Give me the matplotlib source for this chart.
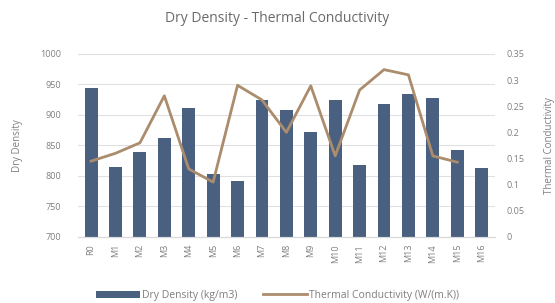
import matplotlib
matplotlib.use("Agg")
import matplotlib.pyplot as plt
from matplotlib.lines import Line2D
from matplotlib.patches import Patch

plt.rcParams['font.family'] = ['Open Sans', 'DejaVu Sans']

categories = ["R0", "M1", "M2", "M3", "M4", "M5", "M6", "M7", "M8", "M9",
              "M10", "M11", "M12", "M13", "M14", "M15", "M16"]
dry_density = [944, 815, 840, 862, 911, 803, 792, 925, 908, 872,
               925, 818, 918, 934, 928, 843, 813]
conductivity = [0.145, 0.16, 0.18, 0.27, 0.13, 0.105, 0.29, 0.262, 0.20, 0.289,
                0.155, 0.281, 0.32, 0.31, 0.155, 0.143]

bar_color = "#4a6080"
line_color = "#ab8c6d"
text_color = "#7f7f7f"

fig = plt.figure(figsize=(5.55, 3.03), dpi=100)
ax = fig.add_axes([0.14, 0.218, 0.752, 0.604])
ax2 = ax.twinx()

x = list(range(len(categories)))
ax.bar(x, [v - 700 for v in dry_density], bottom=700, width=0.53, color=bar_color, zorder=2)
ax2.plot(x[:len(conductivity)], conductivity, color=line_color, linewidth=2, zorder=3)

ax.set_ylim(700, 1000)
ax.set_yticks(range(700, 1001, 50))
ax2.set_ylim(0, 0.35)
ax2.set_yticks([0, 0.05, 0.1, 0.15, 0.2, 0.25, 0.3, 0.35])
ax2.set_yticklabels(["0", "0.05", "0.1", "0.15", "0.2", "0.25", "0.3", "0.35"])
ax.set_xlim(-0.55, len(categories) - 0.45)
ax.set_xticks(x)
ax.set_xticklabels(categories, rotation=90)

ax.grid(axis='y', color="#e0e0e0", linewidth=0.8, zorder=0)
ax.set_axisbelow(True)
for a in (ax, ax2):
    for s in ("top", "left", "right"):
        a.spines[s].set_visible(False)
    a.spines["bottom"].set_color("#d9d9d9")
    a.tick_params(length=0, labelsize=6.5, colors=text_color, pad=5)
ax.tick_params(axis='y', pad=12)
ax2.tick_params(axis='y', pad=8)

ax.set_ylabel("Dry Density", fontsize=7, color=text_color, labelpad=12)
ax2.set_ylabel("Thermal Conductivity", fontsize=7, color=text_color, labelpad=14)

fig.text(0.5, 0.94, "Dry Density - Thermal Conductivity", ha="center", va="center",
         fontsize=10, color="#6a6a6a")

handles = [Patch(facecolor=bar_color, edgecolor='none'),
           Line2D([0], [0], color=line_color, linewidth=2)]
fig.legend(handles, ["Dry Density (kg/m3)", "Thermal Conductivity (W/(m.K))"],
           loc="center", bbox_to_anchor=(0.5, 0.025), ncol=2, frameon=False,
           fontsize=7.5, labelcolor=text_color, handlelength=4.2, columnspacing=2.5,
           handletextpad=0.2)

fig.savefig("out.png", dpi=100)
